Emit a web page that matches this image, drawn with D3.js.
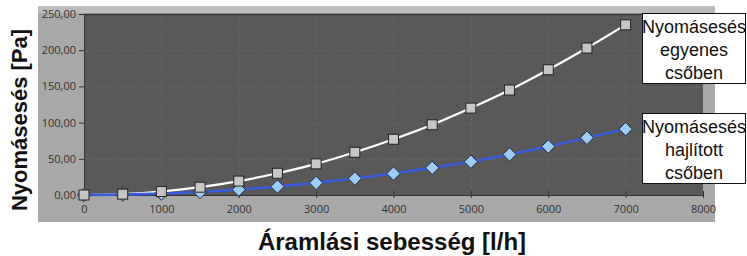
<!DOCTYPE html>
<html>
<head>
<meta charset="utf-8">
<script src="https://cdn.jsdelivr.net/npm/d3@7"></script>
<style>
  body { margin: 0; background: #fff; }
  svg { display: block; font-family: "Liberation Sans", Arial, sans-serif; }
</style>
</head>
<body>
<svg id="chart" width="747" height="256"></svg>
<script>
// flow rate (l/h)
const flow = [0, 500, 1000, 1500, 2000, 2500, 3000, 3500, 4000, 4500, 5000, 5500, 6000, 6500, 7000];
// pressure drop, straight pipe (Pa)
const straight = [0, 1.2, 4.8, 10.8, 19.2, 30, 43, 59, 77, 97, 120, 145, 173, 203, 235];
// pressure drop, bent pipe (Pa)
const bent = [0, 0.5, 1.9, 4.2, 7.4, 11.6, 16.7, 22.7, 29.6, 37.5, 46, 56, 67, 79, 91];

const xTicks = [0, 1000, 2000, 3000, 4000, 5000, 6000, 7000, 8000];
const yTicks = [0, 50, 100, 150, 200, 250];
const legendStraight = ["Nyomásesés", "egyenes", "csőben"];
const legendBent = ["Nyomásesés", "hajlított", "csőben"];

const svg = d3.select("#chart");
const plot = { left: 84, right: 703, top: 14, bottom: 195 };

const x = d3.scaleLinear().domain([0, 8000]).range([plot.left, plot.right]);
const y = d3.scaleLinear().domain([0, 250]).range([plot.bottom, plot.top]);

// outer grey panel
svg.append("rect").attr("x", 38).attr("y", 6).attr("width", 677).attr("height", 216).attr("fill", "#a8a8a8");
svg.append("rect").attr("x", 38).attr("y", 6).attr("width", 677).attr("height", 7).attr("fill", "#bcbcbc");

// plot area
svg.append("rect")
  .attr("x", plot.left).attr("y", plot.top)
  .attr("width", plot.right - plot.left).attr("height", plot.bottom - plot.top)
  .attr("fill", "#595959");

// grid
const grid = svg.append("g").attr("stroke", "#6e6e6e").attr("stroke-width", 1).attr("stroke-dasharray", "1,2");
grid.selectAll(".gx").data(xTicks.slice(1, -1)).join("line")
  .attr("x1", d => x(d) + 0.5).attr("x2", d => x(d) + 0.5)
  .attr("y1", plot.top).attr("y2", plot.bottom);
grid.selectAll(".gy").data(yTicks.slice(1, -1)).join("line")
  .attr("x1", plot.left).attr("x2", plot.right)
  .attr("y1", d => y(d) + 0.5).attr("y2", d => y(d) + 0.5);

// top border of plot
svg.append("line").attr("x1", plot.left).attr("x2", plot.right)
  .attr("y1", plot.top + 0.5).attr("y2", plot.top + 0.5).attr("stroke", "#333").attr("stroke-width", 1.5);

// axes
const xAxis = d3.axisBottom(x).tickValues(xTicks).tickSize(5).tickSizeOuter(0).tickFormat(d3.format("d"));
const yAxis = d3.axisLeft(y).tickValues(yTicks).tickSize(5).tickSizeOuter(0)
  .tickFormat(d => d3.format(".2f")(d).replace(".", ","));

const gx = svg.append("g").attr("transform", `translate(0,${plot.bottom})`).call(xAxis);
const gy = svg.append("g").attr("transform", `translate(${plot.left},0)`).call(yAxis);
[gx, gy].forEach(g => {
  g.select(".domain").attr("stroke", "#333");
  g.selectAll(".tick line").attr("stroke", "#333");
  g.selectAll("text").attr("fill", "#333").attr("font-size", 11)
    .attr("font-family", "'Open Sans', 'DejaVu Sans', sans-serif");
});
gx.selectAll(".tick line").attr("y1", -4).attr("y2", 3);
gx.selectAll("text").attr("dy", "0.95em");

// lines
const line = d3.line().curve(d3.curveMonotoneX);
const ptsStraight = flow.map((f, i) => [x(f), y(straight[i])]);
const ptsBent = flow.map((f, i) => [x(f), y(bent[i])]);

svg.append("path").attr("d", line(ptsStraight)).attr("fill", "none").attr("stroke", "#ffffff").attr("stroke-width", 2.2);
svg.append("path").attr("d", line(ptsBent)).attr("fill", "none").attr("stroke", "#3a5bdc").attr("stroke-width", 2.6);

// markers
svg.append("g").selectAll("path").data(ptsBent).join("path")
  .attr("d", d3.symbol().type(d3.symbolDiamond2).size(115))
  .attr("transform", d => `translate(${d[0]},${d[1]})`)
  .attr("fill", "#9ccbf5").attr("stroke", "#1e2a44").attr("stroke-width", 1);

svg.append("g").selectAll("rect").data(ptsStraight).join("rect")
  .attr("x", d => d[0] - 5).attr("y", d => d[1] - 5)
  .attr("width", 10).attr("height", 10)
  .attr("fill", "#c6c6c6").attr("stroke", "#222").attr("stroke-width", 1);

// legend boxes
function legendBox(lines, top) {
  const g = svg.append("g");
  g.append("rect").attr("x", 642.5).attr("y", top + 0.5).attr("width", 103).attr("height", 70)
    .attr("fill", "#fff").attr("stroke", "#111").attr("stroke-width", 1);
  g.selectAll("text").data(lines).join("text")
    .attr("x", 694).attr("y", (d, i) => top + 20 + i * 23)
    .attr("text-anchor", "middle").attr("font-size", 18).attr("fill", "#111")
    .text(d => d);
}
legendBox(legendStraight, 13);
legendBox(legendBent, 113);

// axis titles
svg.append("text")
  .attr("transform", "translate(27,120) rotate(-90)")
  .attr("text-anchor", "middle").attr("font-size", 22).attr("font-weight", "bold").attr("fill", "#111")
  .text("Nyomásesés [Pa]");

svg.append("text")
  .attr("x", 392).attr("y", 250)
  .attr("text-anchor", "middle").attr("font-size", 24).attr("font-weight", "bold").attr("fill", "#111")
  .text("Áramlási sebesség [l/h]");
</script>
</body>
</html>
